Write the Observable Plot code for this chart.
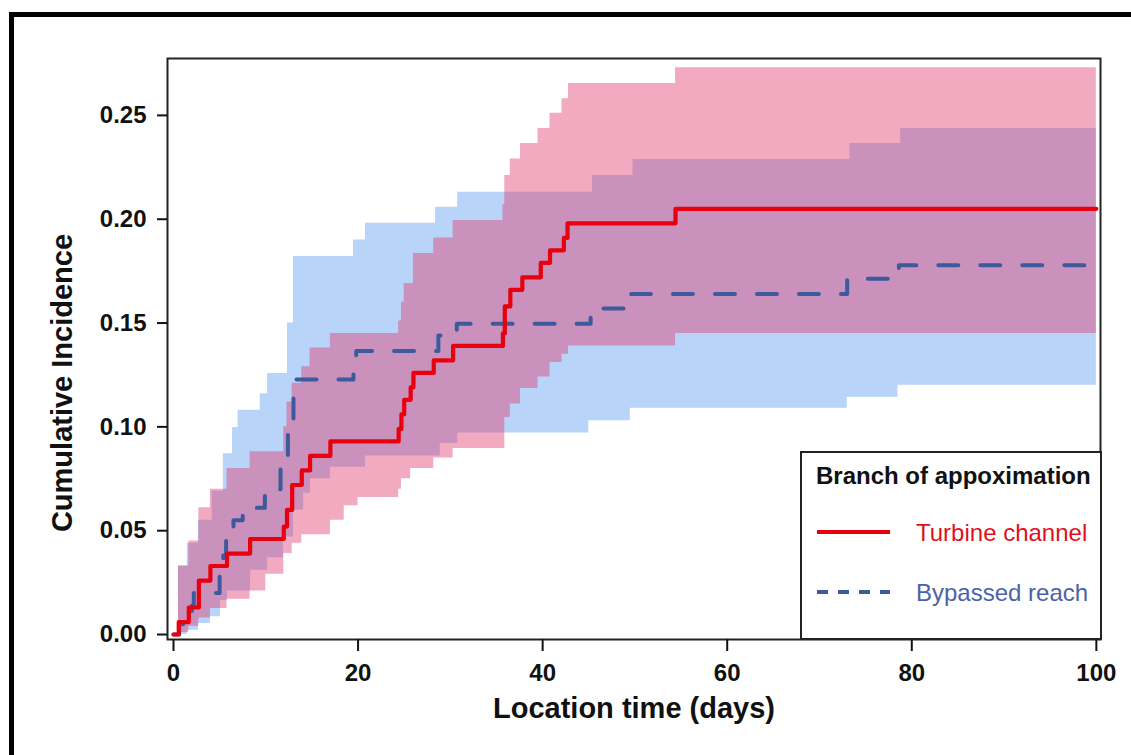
<!DOCTYPE html>
<html><head><meta charset="utf-8">
<script src="https://cdn.jsdelivr.net/npm/d3@7"></script>
<script src="https://cdn.jsdelivr.net/npm/@observablehq/plot@0.6"></script>
<style>
html,body{margin:0;padding:0;background:#fff;width:1131px;height:755px;overflow:hidden;font-family:"Liberation Sans",Arial,sans-serif;}
#wrap{position:relative;width:1131px;height:755px;overflow:hidden;}
#border{position:absolute;left:9px;top:12px;width:1300px;height:900px;border-left:5px solid #000;border-top:5px solid #000;}
#chart{position:absolute;left:0;top:0;}
#legend{position:absolute;left:800px;top:451px;}
</style></head>
<body><div id="wrap"><div id="border"></div><div id="chart"></div><div id="legend"></div></div>
<script>
// Turbine channel cumulative incidence (step function)
const redDays = [0, 0.57, 1.66, 2.75, 4.0, 5.8, 8.3, 11.95, 12.3, 12.86, 13.9, 14.8, 17.0, 24.4, 24.7, 25.0, 25.7, 26.0, 28.2, 30.3, 35.7, 35.9, 36.5, 37.8, 39.8, 40.8, 42.3, 42.7, 54.4, 100];
const redCI   = [0, 0.006, 0.013, 0.026, 0.033, 0.039, 0.046, 0.052, 0.060, 0.072, 0.079, 0.086, 0.093, 0.099, 0.106, 0.113, 0.119, 0.126, 0.132, 0.139, 0.145, 0.158, 0.166, 0.172, 0.179, 0.185, 0.191, 0.198, 0.205, 0.205];
// Bypassed reach cumulative incidence
const blueDays = [0, 0.6, 1.2, 2.0, 2.2, 5.0, 5.4, 5.7, 6.5, 7.5, 9.9, 11.6, 12.4, 13.0, 19.5, 19.8, 28.7, 30.7, 45.2, 49.6, 73.0, 78.6, 100];
const blueCI   = [0, 0.005, 0.010, 0.014, 0.020, 0.029, 0.038, 0.048, 0.055, 0.061, 0.070, 0.083, 0.102, 0.1228, 0.129, 0.1365, 0.144, 0.1497, 0.157, 0.164, 0.1713, 0.1778, 0.1778];
// Turbine channel confidence band
const pinkHiDays = [0.54, 1.66, 2.75, 4.0, 5.8, 8.3, 11.95, 12.3, 12.86, 13.9, 14.8, 17.0, 24.4, 24.7, 25.0, 26.0, 28.2, 30.3, 35.7, 35.9, 36.5, 37.6, 39.5, 40.8, 42.1, 42.8, 54.4, 100];
const pinkHi     = [0.033, 0.045, 0.061, 0.070, 0.080, 0.088, 0.100, 0.112, 0.121, 0.129, 0.138, 0.145, 0.151, 0.160, 0.169, 0.1835, 0.191, 0.1994, 0.207, 0.221, 0.229, 0.2365, 0.2437, 0.251, 0.258, 0.2654, 0.273, 0.273];
const pinkLoDays = [0.54, 1.66, 2.75, 4.0, 5.8, 8.3, 10.0, 11.95, 12.86, 13.9, 17.0, 18.5, 20.0, 24.4, 24.7, 25.7, 28.2, 30.3, 35.9, 36.5, 37.6, 39.5, 40.8, 42.1, 42.8, 54.4, 100];
const pinkLo     = [0.001, 0.004, 0.008, 0.0125, 0.017, 0.021, 0.029, 0.039, 0.044, 0.048, 0.055, 0.062, 0.066, 0.070, 0.075, 0.080, 0.085, 0.0896, 0.1045, 0.111, 0.1185, 0.124, 0.131, 0.135, 0.139, 0.145, 0.145];
// Bypassed reach confidence band
const blueHiDays = [0.54, 1.5, 2.7, 4.2, 5.4, 6.4, 7.0, 9.4, 10.2, 12.35, 13.0, 19.5, 20.8, 28.4, 30.8, 45.4, 49.8, 73.3, 78.8, 100];
const blueHi     = [0.033, 0.044, 0.055, 0.069, 0.087, 0.0997, 0.108, 0.116, 0.1257, 0.150, 0.182, 0.190, 0.198, 0.2058, 0.213, 0.221, 0.2288, 0.2365, 0.2437, 0.2437];
const blueLoDays = [0.54, 1.5, 2.7, 4.0, 5.1, 5.85, 8.35, 10.2, 11.9, 13.0, 14.1, 14.85, 17.0, 20.8, 28.9, 30.8, 45.0, 49.5, 73.0, 78.5, 100];
const blueLo     = [0, 0.002, 0.0053, 0.0085, 0.0164, 0.021, 0.031, 0.037, 0.047, 0.060, 0.068, 0.075, 0.0806, 0.086, 0.092, 0.097, 0.103, 0.109, 0.1143, 0.120, 0.120];

const xTicks = [0, 20, 40, 60, 80, 100];
const yTicks = [0, 0.05, 0.10, 0.15, 0.20, 0.25];
const seriesNames = ["Turbine channel", "Bypassed reach"];
const legendTitle = "Branch of appoximation";

const RED = "#e8000e", BLUE = "#3d5b9c";

function stepAt(days, vals, d) { let v = vals[0]; for (let i = 0; i < days.length; i++) if (days[i] <= d) v = vals[i]; return v; }
function band(hiD, hi, loD, lo) {
  const days = Array.from(new Set([...hiD, ...loD])).sort((a, b) => a - b);
  return days.map(d => ({day: d, lo: stepAt(loD, lo, d), hi: stepAt(hiD, hi, d)}));
}
const redLine = redDays.map((d, i) => ({day: d, v: redCI[i]}));
const blueLine = blueDays.map((d, i) => ({day: d, v: blueCI[i]}));
const pinkBand = band(pinkHiDays, pinkHi, pinkLoDays, pinkLo);
const blueBand = band(blueHiDays, blueHi, blueLoDays, blueLo);

const chart = Plot.plot({
  width: 1131, height: 755,
  marginLeft: 167, marginRight: 31, marginTop: 58, marginBottom: 116,
  style: {fontFamily: "'Liberation Sans', Arial, sans-serif", background: "transparent", color: "#111"},
  x: {domain: [-0.65, 100.45]},
  y: {domain: [-0.0024, 0.2774]},
  marks: [
    Plot.areaY(blueBand, {x: "day", y1: "lo", y2: "hi", curve: "step-after", fill: "rgb(184,212,249)"}),
    Plot.areaY(pinkBand, {x: "day", y1: "lo", y2: "hi", curve: "step-after", fill: "rgb(224,52,104)", fillOpacity: 0.42}),
    Plot.line(blueLine, {x: "day", y: "v", curve: "step-after", stroke: BLUE, strokeWidth: 4, strokeDasharray: "20,22", strokeLinecap: "round"}),
    Plot.line(redLine, {x: "day", y: "v", curve: "step-after", stroke: RED, strokeWidth: 4.2}),
    Plot.frame({stroke: "#222", strokeWidth: 2}),
    Plot.axisX({ticks: xTicks, tickSize: 12, tickPadding: 12, strokeWidth: 2, fontSize: 24, fontWeight: "bold", label: null}),
    Plot.axisY({ticks: yTicks, tickFormat: d3.format(".2f"), tickSize: 10, tickPadding: 11, strokeWidth: 2, fontSize: 24, fontWeight: "bold", label: null}),
    Plot.text(["Location time (days)"], {frameAnchor: "bottom", dy: 78, fontSize: 29, fontWeight: "bold", fill: "#111"}),
    Plot.text(["Cumulative Incidence"], {frameAnchor: "left", textAnchor: "middle", dx: -105, dy: 34, rotate: -90, fontSize: 29, fontWeight: "bold", fill: "#111"})
  ]
});
document.getElementById("chart").appendChild(chart);

// legend
const lg = d3.select("#legend").append("svg").attr("width", 302).attr("height", 190);
lg.append("rect").attr("x", 1).attr("y", 1).attr("width", 300).attr("height", 187).attr("fill", "#fff").attr("stroke", "#222").attr("stroke-width", 2);
lg.append("text").attr("x", 16).attr("y", 33).attr("font-size", 24).attr("font-weight", "bold").attr("fill", "#111").text(legendTitle);
const items = [{name: seriesNames[0], color: RED, dash: null, tc: "#e0101c"}, {name: seriesNames[1], color: BLUE, dash: "11,10", tc: "#4a63a8"}];
items.forEach((it, i) => {
  const y = 81 + i * 60;
  lg.append("line").attr("x1", 17).attr("x2", 90).attr("y1", y).attr("y2", y).attr("stroke", it.color).attr("stroke-width", 4).attr("stroke-dasharray", it.dash);
  lg.append("text").attr("x", 116).attr("y", y + 9).attr("font-size", 24).attr("fill", it.tc).text(it.name);
});
</script></body></html>
